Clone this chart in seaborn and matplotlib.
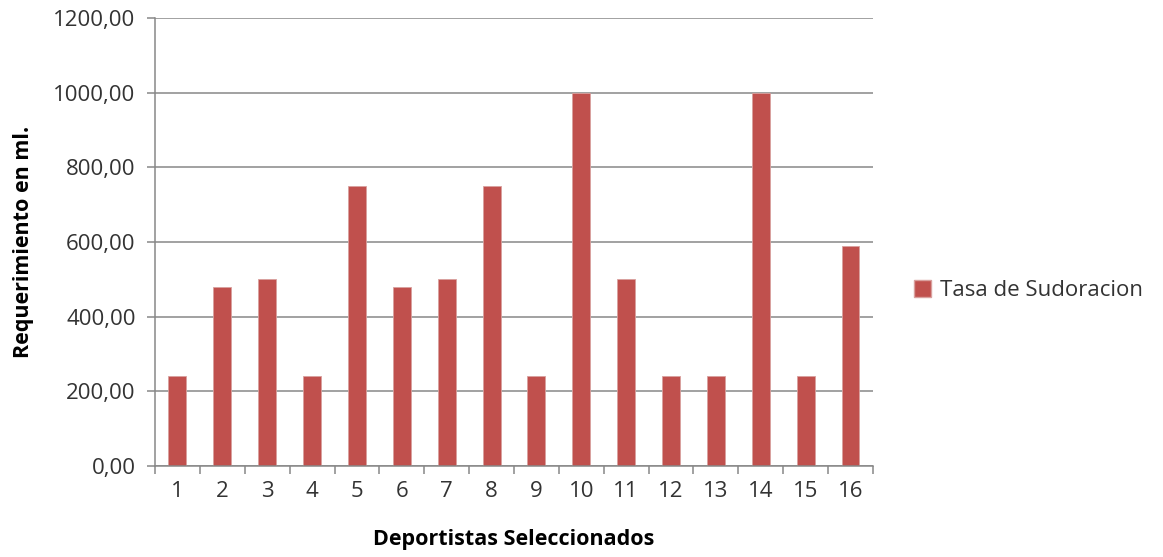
import matplotlib
matplotlib.use("Agg")
import matplotlib.pyplot as plt
from matplotlib.ticker import FixedLocator, FuncFormatter
from matplotlib.patches import Patch
import seaborn as sns
import pandas as pd

deportistas = [str(i) for i in range(1, 17)]
tasa_sudoracion = [240, 480, 500, 240, 750, 480, 500, 750, 240, 1000, 500, 240, 240, 1000, 242, 590]
serie = "Tasa de Sudoracion"

df = pd.DataFrame({"Deportista": deportistas, "Tasa": tasa_sudoracion})

sns.set_theme(style="white")
plt.rcParams["font.family"] = ["Open Sans", "DejaVu Sans"]

bar_color = "#C0504D"
grid_color = "#878787"
text_color = "#333333"

fig = plt.figure(figsize=(11.63, 5.57), dpi=100)
ax = fig.add_axes([0.1333, 0.1634, 0.6173, 0.8043])

sns.barplot(data=df, x="Deportista", y="Tasa", color=bar_color, width=0.4,
            saturation=1, ax=ax, edgecolor="#D9A09E", linewidth=0.6)

ax.set_xlim(-0.5, len(deportistas) - 0.5)
ax.set_ylim(0, 1200)
ax.set_yticks(range(0, 1201, 200))
ax.yaxis.set_major_formatter(FuncFormatter(lambda v, p: f"{v:.2f}".replace(".", ",")))
ax.yaxis.grid(True, color=grid_color, linewidth=1.1)
ax.set_axisbelow(True)

for side in ("top", "right"):
    ax.spines[side].set_visible(False)
for side in ("left", "bottom"):
    ax.spines[side].set_color(grid_color)
    ax.spines[side].set_linewidth(1.1)

ax.tick_params(axis="y", which="major", direction="out", length=6, width=1.1,
               color=grid_color, left=True, labelsize=16, labelcolor=text_color, pad=8)
ax.tick_params(axis="x", which="major", length=0, labelsize=16, labelcolor=text_color, pad=11)
ax.xaxis.set_minor_locator(FixedLocator([i - 0.5 for i in range(len(deportistas) + 1)]))
ax.tick_params(axis="x", which="minor", direction="out", length=6, width=1.1,
               color=grid_color, bottom=True)

ax.set_xlabel("Deportistas Seleccionados", fontsize=15.5, fontweight="bold",
              labelpad=19, color="black")
ax.set_ylabel("Requerimiento en ml.", fontsize=15.5, fontweight="bold",
              labelpad=14, color="black")

handle = Patch(facecolor=bar_color, edgecolor="#D9A09E", label=serie)
fig.legend(handles=[handle], loc="center left", bbox_to_anchor=(0.769, 0.478),
           frameon=False, fontsize=16, handlelength=0.75, handleheight=0.75,
           handletextpad=0.4, labelcolor=text_color)

fig.savefig("out.png", dpi=100, facecolor="white")
